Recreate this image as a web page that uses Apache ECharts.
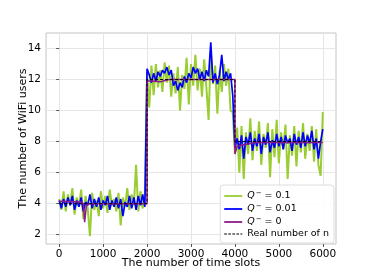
<!DOCTYPE html>
<html><head><meta charset="utf-8">
<script src="https://cdn.jsdelivr.net/npm/echarts@6/dist/echarts.min.js"></script>
<style>html,body{margin:0;padding:0;background:#fff}#c{width:374px;height:275px}</style>
</head><body><div id="c"></div>
<script>
// time slots for the noisy series (every 50 slots)
var slots = [0,50,100,150,200,250,300,350,400,450,500,550,600,650,700,750,800,850,900,950,
1000,1050,1100,1150,1200,1250,1300,1350,1400,1450,1500,1550,1600,1650,1700,1750,1800,1850,1900,1950,
2000,2050,2100,2150,2200,2250,2300,2350,2400,2450,2500,2550,2600,2650,2700,2750,2800,2850,2900,2950,
3000,3050,3100,3150,3200,3250,3300,3350,3400,3450,3500,3550,3600,3650,3700,3750,3800,3850,3900,3950,
4000,4050,4100,4150,4200,4250,4300,4350,4400,4450,4500,4550,4600,4650,4700,4750,4800,4850,4900,4950,
5000,5050,5100,5150,5200,5250,5300,5350,5400,5450,5500,5550,5600,5650,5700,5750,5800,5850,5900,5950,6000];
var q01 = [4.3,3.6,4.8,3.5,4.6,3.9,5.0,3.3,4.4,3.8,4.9,3.0,4.5,3.7,1.9,4.7,3.6,4.2,3.2,4.8,
3.7,4.5,3.4,4.9,3.9,4.3,3.5,4.7,2.6,4.4,3.8,5.0,3.6,4.6,3.9,6.5,3.5,4.8,3.7,4.6,
12.5,10.2,12.9,11.0,13.0,11.5,12.6,11.2,13.1,11.8,12.9,10.9,12.4,11.1,12.8,10.0,12.3,11.4,13.4,10.4,
13.0,11.6,13.6,11.3,12.7,10.9,13.3,11.5,9.4,13.8,11.7,12.9,9.8,12.6,11.2,13.0,11.6,12.7,10.0,9.9,
7.2,8.9,6.0,9.0,5.6,8.6,7.2,9.5,6.8,8.7,7.4,9.3,6.5,8.5,7.6,9.2,5.7,8.8,7.0,9.4,
6.6,8.6,7.5,9.1,5.6,8.4,7.1,9.0,6.4,8.7,7.3,9.2,6.9,8.5,7.4,9.0,6.7,8.8,6.5,5.8,9.9];
var q001 = [4.2,3.7,4.3,3.8,4.4,3.9,4.5,3.6,4.2,3.8,4.4,3.5,4.1,3.9,4.6,3.7,4.3,3.8,4.4,3.6,
4.2,3.9,4.5,3.6,4.2,3.8,4.4,3.7,4.3,3.2,4.1,3.8,4.5,3.7,4.4,3.6,4.5,3.9,4.6,3.8,
12.7,12.3,11.8,12.4,11.9,12.5,12.2,12.6,12.4,12.8,12.3,12.6,11.6,11.9,11.3,11.8,11.5,12.2,11.8,12.4,
12.1,12.8,12.4,12.7,12.0,12.5,11.9,12.6,12.2,14.4,11.8,12.4,11.7,12.3,13.6,11.9,12.5,12.0,12.4,11.0,
7.6,8.2,7.5,8.4,6.9,8.3,7.8,8.6,7.4,8.2,7.7,8.5,7.2,8.3,7.8,8.6,7.3,8.1,7.6,8.5,
7.7,8.3,7.5,8.4,7.9,8.2,7.4,8.5,7.8,8.3,7.6,8.6,7.7,8.4,7.9,8.7,7.5,8.2,6.9,8.0,8.8];
// Q- = 0 estimate
var q0Slots = [0,500,550,580,620,700,2000,2000,2100,2300,2500,4000,4000,4050,4200,4500,6000];
var q0 = [4.15,4.1,4.0,2.8,3.9,4.0,4.0,11.9,11.9,11.85,12.0,12.0,7.2,7.7,7.8,7.95,7.95];
// real number of users
var realSlots = [0,2000,2000,4000,4000,6000];
var realN = [4,4,12,12,8,8];
var xTicks = [0,1000,2000,3000,4000,5000,6000];
var yTicks = [2,4,6,8,10,12,14];

function pairs(xs, ys){ return xs.map(function(x,i){return [x, ys[i]];}); }

var chart = echarts.init(document.getElementById('c'), null, {renderer:'canvas'});
var font = 'DejaVu Sans';
var rich = {
  q:{fontStyle:'italic', fontFamily:font, fontSize:9.5, color:'#000'},
  s:{fontFamily:font, fontSize:7, color:'#000', verticalAlign:'top', padding:[0,0,5,1]},
  t:{fontFamily:font, fontSize:9.5, color:'#000'}
};
var names = ['Q- = 0.1','Q- = 0.01','Q- = 0','Real number of n'];
var colors = ['#9acd32','#0000ff','#8e1a8e','#000000'];
var solidIcon = 'path://M0,0H20V2H0Z';
var dashIcon = 'path://M0,0H3V1H0Z M4.5,0H7.5V1H4.5Z M9,0H12V1H9Z M13.5,0H16.5V1H13.5Z M18,0H20V1H18Z';
chart.setOption({
  animation:false,
  grid:{left:46, right:38, top:33, bottom:31, show:true, borderColor:'#c4c4c4', borderWidth:1,
    containLabel:false, outerBoundsMode:'none'},
  xAxis:{type:'value', min:-300, max:6300,
    axisLine:{show:false}, axisTick:{show:true, customValues:xTicks, length:3, lineStyle:{color:'#555'}},
    axisLabel:{customValues:xTicks, fontFamily:font, fontSize:10.5, color:'#000', margin:5,
      formatter:function(v){return String(v);}},
    splitLine:{show:true, lineStyle:{color:'#e6e6e6', width:1}},
    name:'The number of time slots', nameLocation:'middle', nameGap:14, nameMoveOverlap:false,
    nameTextStyle:{fontFamily:font, fontSize:11, color:'#000', verticalAlign:'top'}},
  yAxis:{type:'value', min:1.4, max:15,
    axisLine:{show:false}, axisTick:{show:true, customValues:yTicks, length:3, lineStyle:{color:'#555'}},
    axisLabel:{customValues:yTicks, fontFamily:font, fontSize:10.5, color:'#000', margin:5},
    splitLine:{show:true, lineStyle:{color:'#e6e6e6', width:1}},
    name:'The number of WiFi users', nameLocation:'middle', nameGap:17, nameMoveOverlap:false,
    nameTextStyle:{fontFamily:font, fontSize:11, color:'#000'}},
  legend:{
    right:40, bottom:32, orient:'vertical', itemWidth:18, itemHeight:2, itemGap:2,
    backgroundColor:'rgba(255,255,255,0.85)', borderColor:'#dddddd', borderWidth:1, borderRadius:3,
    padding:[5,5,4,4],
    data:names.map(function(n,i){return {name:n, icon: i===3 ? dashIcon : solidIcon, itemStyle:{color:colors[i]}};}),
    formatter:function(n){
      if(n==='Real number of n') return '{t|Real number of n}';
      return '{q|Q}{s|−}{t| = '+n.slice(5)+'}';
    },
    textStyle:{rich:rich, fontFamily:font, fontSize:9.5}
  },
  series:[
    {name:names[0], type:'line', data:pairs(slots,q01), showSymbol:false, symbol:'none',
     lineStyle:{color:colors[0], width:2}, itemStyle:{color:colors[0]}, z:1},
    {name:names[1], type:'line', data:pairs(slots,q001), showSymbol:false, symbol:'none',
     lineStyle:{color:colors[1], width:1.7}, itemStyle:{color:colors[1]}, z:2},
    {name:names[2], type:'line', data:pairs(q0Slots,q0), showSymbol:false, symbol:'none',
     lineStyle:{color:colors[2], width:1.5}, itemStyle:{color:colors[2]}, z:3},
    {name:names[3], type:'line', data:pairs(realSlots,realN), showSymbol:false, symbol:'none',
     lineStyle:{color:'#000', width:1, type:[3,2]}, itemStyle:{color:'#000'}, z:4}
  ]
});
</script></body></html>
